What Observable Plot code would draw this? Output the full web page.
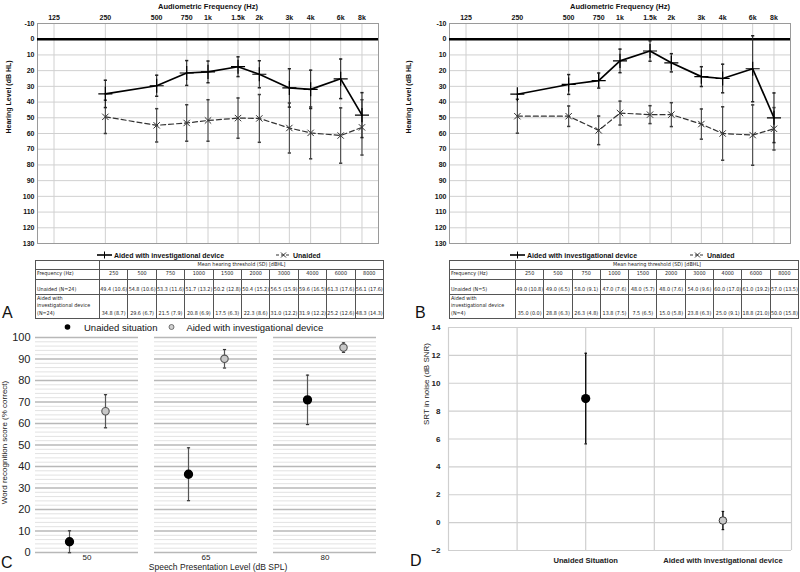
<!DOCTYPE html>
<html><head><meta charset="utf-8">
<script src="https://cdn.jsdelivr.net/npm/d3@7"></script>
<script src="https://cdn.jsdelivr.net/npm/@observablehq/plot@0.6"></script>
<style>
body{margin:0;background:#fff;}
#root{position:relative;width:800px;height:572px;overflow:hidden;font-family:"Liberation Sans",Arial,sans-serif;background:#fff;}
.abs{position:absolute;}
.abs svg{display:block;}
table.t{position:absolute;border-collapse:collapse;table-layout:fixed;font-family:"Liberation Sans Narrow","DejaVu Sans Condensed",sans-serif;font-size:5.4px;line-height:7.6px;color:#222;}
table.t td{border:0.8px solid #555;padding:0;overflow:hidden;white-space:nowrap;text-align:center;}
table.t td.h{text-align:left;padding-left:1px;}
.lg{position:absolute;font-size:7px;font-weight:bold;color:#111;white-space:nowrap;display:flex;align-items:center;}
.lbl{position:absolute;font-size:16px;color:#111;line-height:16px;}
</style></head><body><div id="root"></div>
<script>
// ---------------- data ----------------
const freqs = [125, 250, 500, 750, 1000, 1500, 2000, 3000, 4000, 6000, 8000];
const freqLabels = ["125", "250", "500", "750", "1k", "1.5k", "2k", "3k", "4k", "6k", "8k"];
const testFreqs = [250, 500, 750, 1000, 1500, 2000, 3000, 4000, 6000, 8000];
const hlTicks = [-10, 0, 10, 20, 30, 40, 50, 60, 70, 80, 90, 100, 110, 120, 130];

// Panel A (N=24)
const aUnaided = [49.4, 54.8, 53.3, 51.7, 50.2, 50.4, 56.5, 59.6, 61.3, 56.1];
const aUnaidedSd = [10.6, 10.6, 11.6, 13.2, 12.8, 15.2, 15.9, 16.5, 17.6, 17.6];
const aAided = [34.8, 29.6, 21.5, 20.8, 17.5, 22.3, 31.0, 31.9, 25.2, 48.3];
const aAidedSd = [8.7, 6.7, 7.9, 6.9, 6.3, 8.6, 12.2, 12.2, 12.6, 14.3];

// Panel B (unaided N=5, aided N=4)
const bUnaided = [49.0, 49.0, 58.0, 47.0, 48.0, 48.0, 54.0, 60.0, 61.0, 57.0];
const bUnaidedSd = [10.8, 6.5, 9.1, 7.6, 5.7, 7.6, 9.6, 17.0, 19.2, 13.5];
const bAided = [35.0, 28.8, 26.3, 13.8, 7.5, 15.0, 23.8, 25.0, 18.8, 50.0];
const bAidedSd = [0.0, 6.3, 4.8, 7.5, 6.5, 5.8, 6.3, 9.1, 21.0, 15.8];

// Panel C: word recognition score (% correct)
const levels = ["50", "65", "80"];
const conds = ["Unaided situation", "Aided with investigational device"];
const wrsUnaided = [5.0, 36.4, 71.0];
const wrsUnaidedSd = [5.1, 12.3, 11.5];
const wrsAided = [65.7, 90.1, 95.3];
const wrsAidedSd = [7.7, 4.3, 2.2];
const wrsTicks = [0, 10, 20, 30, 40, 50, 60, 70, 80, 90, 100];

// Panel D: SRT in noise (dB SNR)
const srtCats = ["Unaided Situation", "Aided with investigational device"];
const srtMean = [8.9, 0.15];
const srtSd = [3.25, 0.65];
const srtTicks = [-2, 0, 2, 4, 6, 8, 10, 12, 14];

// ---------------- helpers ----------------
const root = document.getElementById("root");
function place(el, left, top) {
  const d = document.createElement("div");
  d.className = "abs"; d.style.left = left + "px"; d.style.top = top + "px";
  d.appendChild(el); root.appendChild(d); return d;
}
const capSym = {draw(ctx, size) { const r = Math.sqrt(size / Math.PI); ctx.moveTo(-r, 0); ctx.lineTo(r, 0); }};
const FONT = "'Liberation Sans', Arial, sans-serif";

function audiogram(ml, mr, unaided, unaidedSd, aided, aidedSd) {
  const U = testFreqs.map((f, i) => ({f, m: unaided[i], sd: unaidedSd[i], lo: unaided[i] - unaidedSd[i], hi: unaided[i] + unaidedSd[i]}));
  const A = testFreqs.map((f, i) => ({f, m: aided[i], sd: aidedSd[i], lo: aided[i] - aidedSd[i], hi: aided[i] + aidedSd[i]}));
  const Ab = A.filter(d => d.sd > 0), Ub = U.filter(d => d.sd > 0);
  return Plot.plot({
    width: 400, height: 250, marginLeft: ml, marginRight: mr, marginTop: 23, marginBottom: 7,
    x: {type: "log", domain: [100, 10000], axis: null},
    y: {domain: [-10, 130], reverse: true, axis: null},
    style: {fontFamily: FONT, fontSize: "7px", fontWeight: "bold", background: "transparent", overflow: "visible", color: "#111"},
    marks: [
      Plot.ruleY(hlTicks, {stroke: "#d0d0d0", strokeOpacity: 1}),
      Plot.ruleX(freqs, {stroke: "#d0d0d0", strokeOpacity: 1}),
      Plot.frame({stroke: "#9a9a9a"}),
      Plot.ruleY([0], {stroke: "#000", strokeWidth: 2.6}),
      // error bars
      Plot.ruleX(Ub, {x: "f", y1: "lo", y2: "hi", stroke: "#3a3a3a", strokeWidth: 1}),
      Plot.ruleX(Ab, {x: "f", y1: "lo", y2: "hi", stroke: "#222", strokeWidth: 1}),
      Plot.dot(Ub, {x: "f", y: "lo", symbol: capSym, r: 1.6, stroke: "#3a3a3a", fill: "none"}),
      Plot.dot(Ub, {x: "f", y: "hi", symbol: capSym, r: 1.6, stroke: "#3a3a3a", fill: "none"}),
      Plot.dot(Ab, {x: "f", y: "lo", symbol: capSym, r: 1.6, stroke: "#222", fill: "none"}),
      Plot.dot(Ab, {x: "f", y: "hi", symbol: capSym, r: 1.6, stroke: "#222", fill: "none"}),
      // lines
      Plot.line(U, {x: "f", y: "m", stroke: "#333", strokeWidth: 1.2, strokeDasharray: "5,3"}),
      Plot.line(A, {x: "f", y: "m", stroke: "#000", strokeWidth: 1.7}),
      Plot.dot(U, {x: "f", y: "m", symbol: "times", r: 3, stroke: "#333", strokeWidth: 1}),
      Plot.dot(A, {x: "f", y: "m", symbol: "plus", r: 4.6, stroke: "#000", strokeWidth: 1.2}),
      // axes as text
      Plot.text(freqs, {x: d => d, text: (d, i) => freqLabels[i], frameAnchor: "top", dy: -8}),
      Plot.text(["Audiometric Frequency (Hz)"], {frameAnchor: "top", dy: -20, fontSize: 7.5}),
      Plot.text(hlTicks, {y: d => d, text: d => String(d), frameAnchor: "left", dx: -3, textAnchor: "end"}),
      Plot.text(["Hearing Level (dB HL)"], {frameAnchor: "left", rotate: -90, dx: -(ml - 8), fontSize: 7})
    ]
  });
}

function legendAud(x1, x2) {
  const mk = (left, svgInner, w, text) => {
    const d = document.createElement("div");
    d.className = "lg"; d.style.left = left + "px"; d.style.top = "251px";
    d.innerHTML = `<svg width="${w}" height="8" style="margin-right:2px">${svgInner}</svg><span>${text}</span>`;
    root.appendChild(d);
  };
  mk(x1, `<line x1="0" y1="4" x2="15" y2="4" stroke="#000" stroke-width="1.6"/><line x1="7.5" y1="0.5" x2="7.5" y2="7.5" stroke="#000" stroke-width="1"/>`, 15, "Aided with investigational device");
  mk(x2, `<line x1="0" y1="4" x2="15" y2="4" stroke="#333" stroke-width="1.1" stroke-dasharray="3,2"/><path d="M5,1.5L10,6.5M10,1.5L5,6.5" stroke="#333" stroke-width="1"/>`, 15, "Unaided");
}

function table(left, firstW, colW, nLabel, unaided, unaidedSd, aided, aidedSd, aidedN) {
  const t = document.createElement("table");
  t.className = "t";
  t.style.left = left + "px"; t.style.top = "260px";
  t.style.width = (firstW + colW * 10) + "px";
  const fmt = (m, s) => `${m.toFixed(1)} (${s.toFixed(1)})`;
  let html = `<colgroup><col style="width:${firstW}px">${testFreqs.map(() => `<col style="width:${colW}px">`).join("")}</colgroup>`;
  html += `<tr style="height:7px"><td></td><td colspan="10">Mean hearing threshold (SD) [dBHL]</td></tr>`;
  html += `<tr style="height:10px"><td class="h">Frequency (Hz)</td>${testFreqs.map(f => `<td>${f}</td>`).join("")}</tr>`;
  html += `<tr style="height:15px;vertical-align:bottom"><td class="h">Unaided (N=${nLabel})</td>${unaided.map((m, i) => `<td>${fmt(m, unaidedSd[i])}</td>`).join("")}</tr>`;
  html += `<tr style="height:24px;vertical-align:bottom"><td class="h">Aided with<br>investigational device<br>(N=${aidedN})</td>${aided.map((m, i) => `<td>${fmt(m, aidedSd[i])}</td>`).join("")}</tr>`;
  t.innerHTML = html;
  root.appendChild(t);
}

function label(txt, left, top) {
  const d = document.createElement("div");
  d.className = "lbl"; d.textContent = txt; d.style.left = left + "px"; d.style.top = top + "px";
  root.appendChild(d);
}

// ---------------- Panel A ----------------
place(audiogram(37, 22, aUnaided, aUnaidedSd, aAided, aAidedSd), 0, 0);
legendAud(97, 276);
table(35, 64, 28.4, 24, aUnaided, aUnaidedSd, aAided, aAidedSd, 24);
label("A", 2, 305);

// ---------------- Panel B ----------------
place(audiogram(49, 10, bUnaided, bUnaidedSd, bAided, bAidedSd), 400, 0);
legendAud(510, 690);
table(449, 66, 28.3, 5, bUnaided, bUnaidedSd, bAided, bAidedSd, 4);
label("B", 415, 305);

// ---------------- Panel C ----------------
{
  const wrs = levels.flatMap((L, i) => [
    {level: L, cond: conds[0], m: wrsUnaided[i], lo: wrsUnaided[i] - wrsUnaidedSd[i], hi: wrsUnaided[i] + wrsUnaidedSd[i]},
    {level: L, cond: conds[1], m: wrsAided[i], lo: wrsAided[i] - wrsAidedSd[i], hi: wrsAided[i] + wrsAidedSd[i]}
  ]);
  const minor = d3.range(0, 101, 2).filter(v => v % 10 !== 0);
  const svg = Plot.plot({
    width: 400, height: 242, marginLeft: 34, marginRight: 22, marginTop: 7, marginBottom: 20,
    facet: {data: wrs, x: "level"},
    fx: {domain: levels, paddingInner: 0.133, paddingOuter: 0, axis: "bottom", tickSize: 0, tickPadding: 2, label: null},
    x: {domain: conds, type: "point", padding: 0.9, axis: null},
    y: {domain: [0, 100], ticks: wrsTicks, tickSize: 0, tickPadding: 5, label: null},
    style: {fontFamily: FONT, fontSize: "8px", background: "transparent", overflow: "visible", color: "#222"},
    marks: [
      Plot.ruleY(minor, {stroke: "#e2e2e2", strokeOpacity: 1}),
      Plot.ruleY(wrsTicks, {stroke: "#b8b8b8", strokeOpacity: 1, strokeWidth: 1.4}),
      Plot.ruleX(wrs, {x: "cond", y1: "lo", y2: "hi", stroke: "#555", strokeWidth: 1.2}),
      Plot.dot(wrs, {x: "cond", y: "lo", symbol: capSym, r: 1.6, stroke: "#333", fill: "none", strokeWidth: 1.2}),
      Plot.dot(wrs, {x: "cond", y: "hi", symbol: capSym, r: 1.6, stroke: "#333", fill: "none", strokeWidth: 1.2}),
      Plot.dot(wrs, {filter: d => d.cond === conds[0], x: "cond", y: "m", r: 3.9, fill: "#000", stroke: "#000"}),
      Plot.dot(wrs, {filter: d => d.cond === conds[1], x: "cond", y: "m", r: 3.7, fill: "#c8c8c8", stroke: "#555", strokeWidth: 1.1})
    ]
  });
  svg.querySelectorAll('[aria-label^="y-axis"]').forEach(g => g.setAttribute("font-size", "11"));
  place(svg, 0, 330);
  // legend
  const lg = document.createElement("div");
  lg.className = "lg"; lg.style.left = "63px"; lg.style.top = "320px"; lg.style.fontSize = "9.5px"; lg.style.fontWeight = "normal";
  lg.innerHTML = `<svg width="9" height="14"><circle cx="4.5" cy="7" r="2.8" fill="#000"/></svg><span style="margin-left:12px">${conds[0]}</span>` +
    `<svg width="9" height="14" style="margin-left:10px"><circle cx="4.5" cy="7" r="2.5" fill="#d0d0d0" stroke="#555" stroke-width="0.8"/></svg><span style="margin-left:10px">${conds[1]}</span>`;
  root.appendChild(lg);
  const yt = document.createElement("div");
  yt.className = "abs"; yt.style.cssText = "left:-66px;top:438px;width:140px;text-align:center;font-size:8px;color:#222;transform:rotate(-90deg);";
  yt.textContent = "Word recognition score (% correct)";
  root.appendChild(yt);
  const xt = document.createElement("div");
  xt.className = "abs"; xt.style.cssText = "left:118px;top:562px;width:200px;text-align:center;font-size:8.5px;color:#222;";
  xt.textContent = "Speech Presentation Level (dB SPL)";
  root.appendChild(xt);
  label("C", 1, 555);
}

// ---------------- Panel D ----------------
{
  const srt = srtCats.map((c, i) => ({c, x: 2 * (i + 1), m: srtMean[i], lo: srtMean[i] - srtSd[i], hi: srtMean[i] + srtSd[i]}));
  const svg = Plot.plot({
    width: 400, height: 252, marginLeft: 48, marginRight: 9, marginTop: 7, marginBottom: 22,
    x: {domain: [0, 5], axis: null},
    y: {domain: [-2, 14], ticks: srtTicks, tickSize: 0, tickPadding: 8, label: null},
    style: {fontFamily: FONT, fontSize: "8px", fontWeight: "bold", background: "transparent", overflow: "visible", color: "#222"},
    marks: [
      Plot.ruleY(srtTicks, {stroke: "#cfcfcf", strokeOpacity: 1, strokeWidth: 1.2}),
      Plot.ruleX(d3.range(0, 6), {stroke: "#cfcfcf", strokeOpacity: 1, strokeWidth: 1.2}),
      Plot.ruleX(srt, {x: "x", y1: "lo", y2: "hi", stroke: "#111", strokeWidth: 1.4}),
      Plot.dot(srt, {x: "x", y: "lo", symbol: capSym, r: 1.3, stroke: "#111", fill: "none", strokeWidth: 1.2}),
      Plot.dot(srt, {x: "x", y: "hi", symbol: capSym, r: 1.3, stroke: "#111", fill: "none", strokeWidth: 1.2}),
      Plot.dot(srt.slice(0, 1), {x: "x", y: "m", r: 4.6, fill: "#000"}),
      Plot.dot(srt.slice(1), {x: "x", y: "m", r: 3.8, fill: "#c8c8c8", stroke: "#333", strokeWidth: 1}),
      Plot.text(srt, {x: "x", text: "c", frameAnchor: "bottom", dy: 12, fontSize: 7.6, fontWeight: "bold"}),
      Plot.text(["SRT in noise (dB SNR)"], {frameAnchor: "left", rotate: -90, dx: -22, dy: -14, fontSize: 8, fontWeight: "normal"})
    ]
  });
  place(svg, 400, 320);
  label("D", 410, 553);
}
</script></body></html>
